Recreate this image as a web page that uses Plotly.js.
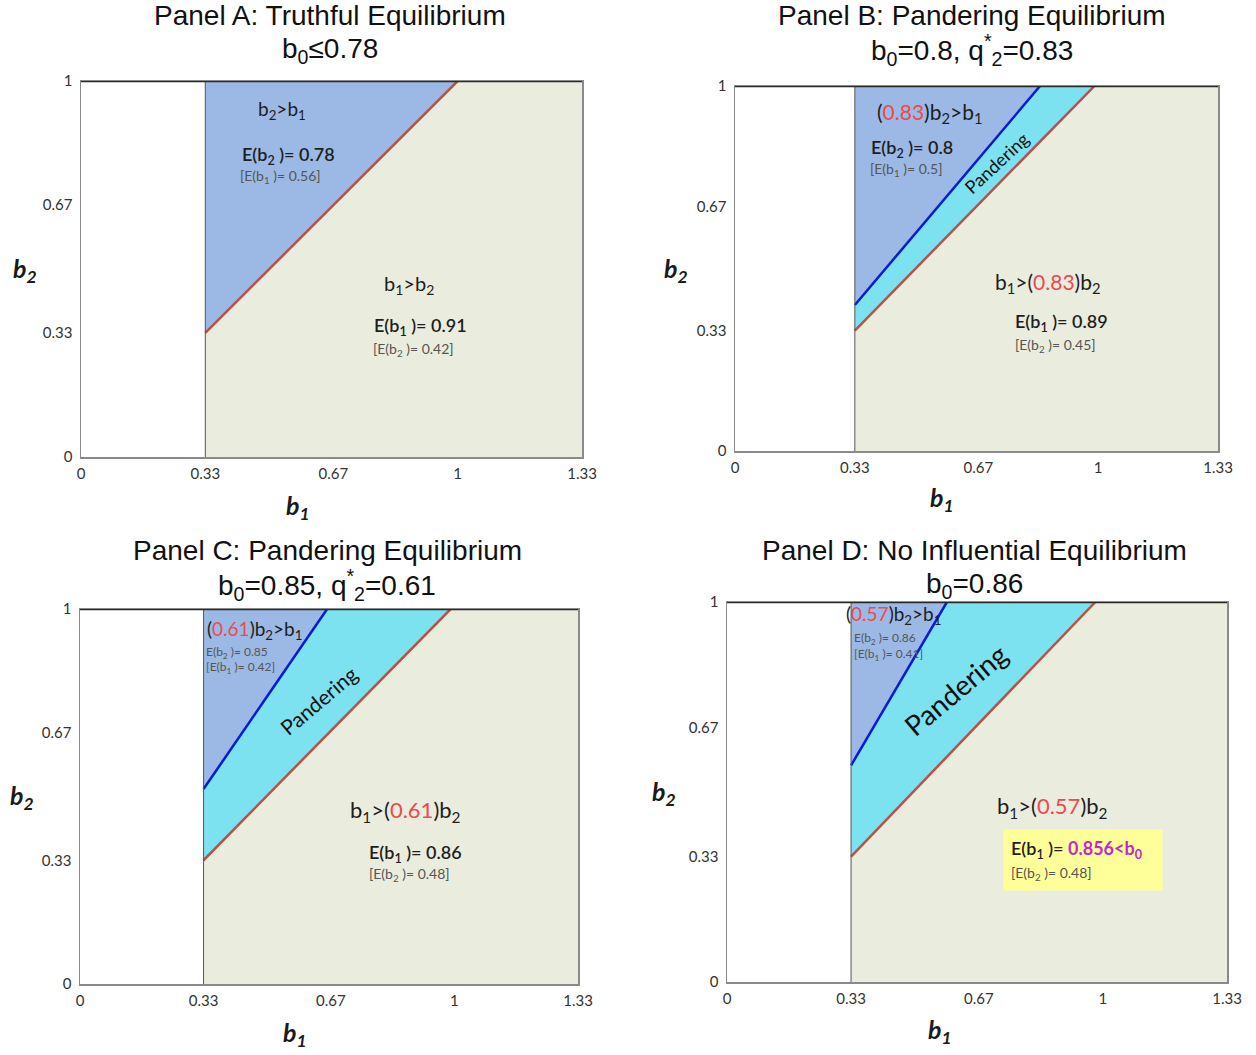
<!DOCTYPE html>
<html><head><meta charset="utf-8">
<script src="https://cdn.plot.ly/plotly-3.0.1.min.js"></script>
<style>body{margin:0;background:#fff}#chart{width:1256px;height:1055px}</style>
</head><body><div id="chart"></div>
<script>
// ---------- data ----------
const panels = ['A', 'B', 'C', 'D'];
const titleTop = ['Panel A: Truthful Equilibrium', 'Panel B: Pandering Equilibrium', 'Panel C: Pandering Equilibrium', 'Panel D: No Influential Equilibrium'];
const titleSub = ['b<sub>0</sub>≤0.78', 'b<sub>0</sub>=0.8, q<sup>*</sup><sub>2</sub>=0.83', 'b<sub>0</sub>=0.85, q<sup>*</sup><sub>2</sub>=0.61', 'b<sub>0</sub>=0.86'];
const qStar = ['', '0.83', '0.61', '0.57'];
const xRange = [0, 1.33];
const yRange = [0, 1];
const threshold = 0.33;                    // b1 lower bound
const redStartY = [0.33, 0.33, 0.33, 0.33]; // b2 of red (b1=b2) line at b1=0.33
const redTopX = [1, 0.99, 0.99, 0.98];      // b1 where red line meets b2=1
const blueStartY = [0.33, 0.40, 0.52, 0.57];// b2 of blue line at b1=0.33
const blueTopX = [1, 0.84, 0.66, 0.585];    // b1 where blue line meets b2=1
const hasPandering = [false, true, true, true];
const xTickVals = [0, 0.33, 0.67, 1, 1.33];
const xTickText = ['0', '0.33', '0.67', '1', '1.33'];
const yTickVals = [0, 0.33, 0.67, 1];
const yTickText = ['0', '0.33', '0.67', '1'];
const upperE = ['0.78', '0.8', '0.85', '0.86'];
const upperEaux = ['0.56', '0.5', '0.42', '0.41'];
const lowerE = ['0.91', '0.89', '0.86', '0.856'];
const lowerEaux = ['0.42', '0.45', '0.48', '0.48'];

// ---------- styling / layout positions ----------
const RED_NUM = '#ec4a4f';
const C_BLUE = 'rgb(155,185,228)';
const C_CYAN = 'rgb(125,226,240)';
const C_BEIGE = 'rgb(234,237,222)';
const C_RED = '#b5534b';
const C_BLUELINE = '#0a1ad6';
const FONT = 'Lato, "Open Sans", sans-serif';
const TFONT = '"Liberation Sans", Arial, sans-serif';
const dark = '#1e1e1e', grey = '#555555';

const dom = [
  {x: [81/1256, 582/1256], y: [1-457/1055, 1-81/1055], tx: 330/1256, xt: 25/1256, ytc: 1-270/1055, bx: 298/1256, by: 1-507/1055, ty1: 1-15/1055, ty2: 1-50/1055},
  {x: [735/1256, 1218/1256], y: [1-451/1055, 1-86/1055], tx: 972/1256, xt: 676/1256, ytc: 1-270/1055, bx: 942/1256, by: 1-499/1055, ty1: 1-15/1055, ty2: 1-50/1055},
  {x: [80/1256, 578/1256], y: [1-984/1055, 1-609/1055], tx: 327/1256, xt: 22/1256, ytc: 1-797/1055, bx: 295/1256, by: 1-1034/1055, ty1: 1-550/1055, ty2: 1-585/1055},
  {x: [727/1256, 1227/1256], y: [1-982/1055, 1-602/1055], tx: 974/1256, xt: 664/1256, ytc: 1-793/1055, bx: 940/1256, by: 1-1031/1055, ty1: 1-550/1055, ty2: 1-585/1055}
];
// positions of the in-plot labels (data coords) [x, y, size]
const lab = [
  {ul: [0.534, 0.923, 19], um: [0.422, 0.803, 18], ua: [0.418, 0.745, 14], ll: [0.871, 0.46, 20], lm: [0.7725, 0.346, 18], la: [0.77, 0.287, 14]},
  {ul: [0.537, 0.926, 21], um: [0.369, 0.83, 18], ua: [0.366, 0.77, 14], ll: [0.862, 0.46, 21], lm: [0.765, 0.351, 18], la: [0.765, 0.29, 14], p: [0.72, 0.789, 18, -43]},
  {ul: [0.467, 0.944, 19], um: [0.332, 0.885, 12], ua: [0.332, 0.843, 12], ll: [0.868, 0.461, 22], lm: [0.767, 0.349, 18], la: [0.767, 0.291, 14], p: [0.636, 0.757, 21, -40]},
  {ul: [0.442, 0.966, 19], um: [0.333, 0.903, 12], ua: [0.333, 0.863, 12], ll: [0.865, 0.46, 22], box: [0.734, 0.321], p: [0.607, 0.768, 28, -40]}
];

const traces = [];
const layout = {
  width: 1256, height: 1055,
  margin: {l: 0, r: 0, t: 0, b: 0},
  paper_bgcolor: '#fff', plot_bgcolor: '#fff',
  showlegend: false,
  annotations: [],
  font: {family: FONT, color: dark}
};

panels.forEach((p, i) => {
  const n = i + 1;
  const xa = 'x' + (n === 1 ? '' : n), ya = 'y' + (n === 1 ? '' : n);
  const x0 = threshold, x1 = xRange[1], yT = yRange[1];
  // regions
  traces.push({type: 'scatter', mode: 'lines', xaxis: xa, yaxis: ya, fill: 'toself', fillcolor: C_BEIGE, line: {width: 0}, hoverinfo: 'skip',
    x: [x0, x1, x1, redTopX[i], x0], y: [yRange[0], yRange[0], yT, yT, redStartY[i]]});
  if (hasPandering[i]) {
    traces.push({type: 'scatter', mode: 'lines', xaxis: xa, yaxis: ya, fill: 'toself', fillcolor: C_CYAN, line: {width: 0}, hoverinfo: 'skip',
      x: [x0, redTopX[i], blueTopX[i], x0], y: [redStartY[i], yT, yT, blueStartY[i]]});
  }
  traces.push({type: 'scatter', mode: 'lines', xaxis: xa, yaxis: ya, fill: 'toself', fillcolor: C_BLUE, line: {width: 0}, hoverinfo: 'skip',
    x: [x0, blueTopX[i], x0], y: [blueStartY[i], yT, yT]});
  // boundary lines
  traces.push({type: 'scatter', mode: 'lines', xaxis: xa, yaxis: ya, line: {color: C_RED, width: 2.5}, hoverinfo: 'skip',
    x: [x0, redTopX[i]], y: [redStartY[i], yT]});
  if (hasPandering[i]) {
    traces.push({type: 'scatter', mode: 'lines', xaxis: xa, yaxis: ya, line: {color: C_BLUELINE, width: 2.5}, hoverinfo: 'skip',
      x: [x0, blueTopX[i]], y: [blueStartY[i], yT]});
  }
  traces.push({type: 'scatter', mode: 'lines', xaxis: xa, yaxis: ya, line: {color: '#555', width: 1}, hoverinfo: 'skip',
    x: [x0, x0], y: [yRange[0], yT]});
  traces.push({type: 'scatter', mode: 'lines', xaxis: xa, yaxis: ya, line: {color: '#2a2a2a', width: 2.5}, hoverinfo: 'skip', cliponaxis: false,
    x: [xRange[0], xRange[1]], y: [yT, yT]});

  const d = dom[i];
  layout['xaxis' + (n === 1 ? '' : n)] = {
    domain: d.x, anchor: ya, range: xRange, showgrid: false, zeroline: false,
    showline: true, mirror: true, linecolor: '#8a8a8a', linewidth: 1.5,
    tickvals: xTickVals, ticktext: xTickText, ticks: '', ticklabelstandoff: 2,
    tickfont: {family: FONT, size: 15, color: '#333'}
  };
  layout['yaxis' + (n === 1 ? '' : n)] = {
    domain: d.y, anchor: xa, range: yRange, showgrid: false, zeroline: false,
    showline: true, mirror: true, linecolor: '#8a8a8a', linewidth: 1.5,
    tickvals: yTickVals, ticktext: yTickText, ticks: '', ticklabelstandoff: 4,
    tickfont: {family: FONT, size: 15, color: '#333'}
  };
  // titles
  layout.annotations.push({xref: 'paper', yref: 'paper', x: d.tx, y: d.ty1, text: titleTop[i], showarrow: false,
    xanchor: 'center', yanchor: 'middle', font: {family: TFONT, size: 28, color: '#111'}});
  layout.annotations.push({xref: 'paper', yref: 'paper', x: d.tx, y: d.ty2, text: titleSub[i], showarrow: false,
    xanchor: 'center', yanchor: 'middle', font: {family: TFONT, size: 28, color: '#111'}});
  // axis titles
  layout.annotations.push({xref: 'paper', yref: 'paper', x: d.xt, y: d.ytc, text: '<b><i>b<sub>2</sub></i></b>', showarrow: false,
    xanchor: 'center', yanchor: 'middle', font: {family: FONT, size: 25, color: '#1a1a1a'}});
  layout.annotations.push({xref: 'paper', yref: 'paper', x: d.bx, y: d.by, text: '<b><i>b<sub>1</sub></i></b>', showarrow: false,
    xanchor: 'center', yanchor: 'middle', font: {family: FONT, size: 25, color: '#1a1a1a'}});

  const L = lab[i];
  const q = qStar[i] ? '(<span style="color:' + RED_NUM + '">' + qStar[i] + '</span>)' : '';
  const ann = (pos, text, size, color, anchor, extra, weight) => Object.assign({xref: xa, yref: ya, x: pos[0], y: pos[1], text: text, showarrow: false,
    xanchor: anchor, yanchor: 'middle', font: {family: FONT, size: size, color: color, weight: weight || 400}}, extra || {});
  layout.annotations.push(ann(L.ul, q + 'b<sub>2</sub>&gt;b<sub>1</sub>', L.ul[2], dark, 'center'));
  layout.annotations.push(ann(L.um, 'E(b<sub>2</sub> )= ' + upperE[i], L.um[2], i >= 2 ? grey : dark, 'left', null, i >= 2 ? 400 : 600));
  layout.annotations.push(ann(L.ua, '[E(b<sub>1</sub> )= ' + upperEaux[i] + ']', L.ua[2], grey, 'left'));
  layout.annotations.push(ann(L.ll, 'b<sub>1</sub>&gt;' + q + 'b<sub>2</sub>', L.ll[2], dark, 'center'));
  if (L.box) {
    layout.annotations.push(ann(L.box, 'E(b<sub>1</sub> )= <b><span style="color:#c429c8">' + lowerE[i] + '&lt;b<sub>0</sub></span></b>   <br>' +
      '<span style="font-size:14px;color:' + grey + ';font-weight:400">[E(b<sub>2</sub> )= ' + lowerEaux[i] + ']</span>', 18, dark, 'left',
      {align: 'left', bgcolor: '#ffff99', borderpad: 7}, 600));
  } else {
    layout.annotations.push(ann(L.lm, 'E(b<sub>1</sub> )= ' + lowerE[i], L.lm[2], dark, 'left', null, 600));
    layout.annotations.push(ann(L.la, '[E(b<sub>2</sub> )= ' + lowerEaux[i] + ']', L.la[2], grey, 'left'));
  }
  if (L.p) {
    layout.annotations.push(ann(L.p, 'Pandering', L.p[2], '#111', 'center', {textangle: L.p[3]}));
  }
});

Plotly.newPlot('chart', traces, layout, {displayModeBar: false, staticPlot: true});
</script>
</body></html>
